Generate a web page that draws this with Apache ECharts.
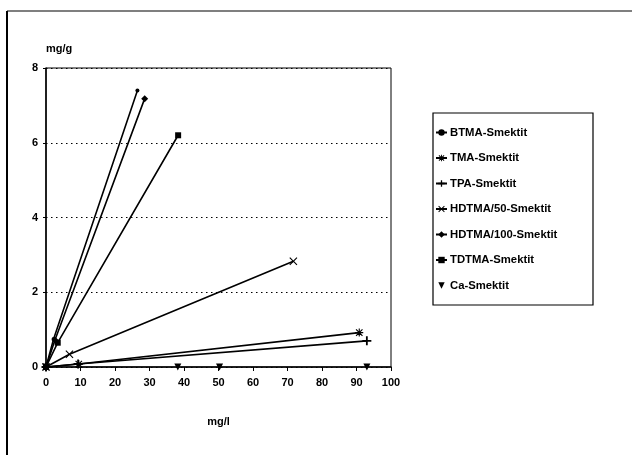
<!DOCTYPE html>
<html><head><meta charset="utf-8">
<script src="https://cdn.jsdelivr.net/npm/echarts@6/dist/echarts.min.js"></script>
<style>html,body{margin:0;padding:0;background:#fff}#c{width:632px;height:455px}</style>
</head><body><div id="c"></div>
<script>
const seriesNames = ['BTMA-Smektit','TMA-Smektit','TPA-Smektit','HDTMA/50-Smektit','HDTMA/100-Smektit','TDTMA-Smektit','Ca-Smektit'];
const btma = [[0,0],[2.2,0.75],[26.5,7.4]];
const tma = [[0,0],[9.5,0.08],[90.8,0.92]];
const tpa = [[0,0],[9.3,0.08],[93,0.7]];
const hdtma50 = [[0,0],[6.8,0.34],[71.7,2.83]];
const hdtma100 = [[0,0],[2.6,0.72],[28.6,7.18]];
const tdtma = [[0,0],[3.4,0.65],[38.3,6.2]];
const ca = [[0,0],[38.2,0],[50.3,0],[93,0]];
const xTicks = [0,10,20,30,40,50,60,70,80,90,100];
const yTicks = [0,2,4,6,8];

const FONT = 'Liberation Sans';
const plus = 'path://M4,0h2v4h4v2h-4v4h-2v-4h-4v-2h4z';
const asterisk = 'path://M4.3,0h1.4v4.3h4.3v1.4h-4.3v4.3h-1.4v-4.3h-4.3v-1.4h4.3z M1.5,0.5L5,4L8.5,0.5L9.5,1.5L6,5L9.5,8.5L8.5,9.5L5,6L1.5,9.5L0.5,8.5L4,5L0.5,1.5z';
const cross = 'path://M1,0L5,4L9,0L10,1L6,5L10,9L9,10L5,6L1,10L0,9L4,5L0,1z';
const dataSets = [btma, tma, tpa, hdtma50, hdtma100, tdtma, ca];
const symbols = [['circle',[4,4]], [asterisk,[8,8]], [plus,[9,9]], [cross,[8,8]], ['diamond',[7,7]], ['rect',[6,6]], ['triangle',[7,7]]];

const series = dataSets.map((d,i)=>({
  name: seriesNames[i], type:'line', data:d,
  symbol: symbols[i][0], symbolSize: symbols[i][1], symbolRotate: i===6?180:0,
  showSymbol:true, z: 5,
  itemStyle:{color:'#000'},
  lineStyle:{color:'#000', width: i===6?0:1.6, opacity: i===6?0:1},
  emphasis:{disabled:true}, animation:false
}));

const chart = echarts.init(document.getElementById('c'));
chart.setOption({
  animation:false,
  backgroundColor:'#fff',
  grid:{left:46, top:68, width:345, height:299, show:true, borderColor:'#000', borderWidth:1, backgroundColor:'transparent'},
  xAxis:{type:'value', min:0, max:100, interval:10,
    axisLine:{lineStyle:{color:'#000', width:1.5}},
    axisTick:{show:true, length:4, lineStyle:{color:'#000'}},
    axisLabel:{color:'#000', fontFamily:FONT, fontWeight:'bold', fontSize:11, margin:10},
    splitLine:{show:false},
    name:'mg/l', nameLocation:'middle', nameGap:49,
    nameTextStyle:{color:'#000', fontFamily:FONT, fontWeight:'bold', fontSize:11}},
  yAxis:{type:'value', min:0, max:8, interval:2,
    axisLine:{show:true, lineStyle:{color:'#000', width:1.5}},
    axisTick:{show:true, length:3, lineStyle:{color:'#000'}},
    axisLabel:{color:'#000', fontFamily:FONT, fontWeight:'bold', fontSize:11, margin:8},
    splitLine:{show:true, lineStyle:{color:'#000', type:[1.5,3.5], width:1}},
    name:'mg/g', nameLocation:'end', nameGap:14,
    nameTextStyle:{color:'#000', fontFamily:FONT, fontWeight:'bold', fontSize:11, align:'left', padding:[0,0,0,0]}},
  legend:{orient:'vertical', left:430, top:122, itemGap:14.5, itemWidth:11, itemHeight:8,
    data: seriesNames,
    textStyle:{color:'#000', fontFamily:FONT, fontWeight:'bold', fontSize:11.3, padding:[0,0,0,-2]},
    selectedMode:false},
  graphic:[
    {type:'line', shape:{x1:7,y1:11,x2:7,y2:455}, style:{stroke:'#000', lineWidth:2}},
    {type:'line', shape:{x1:7,y1:11,x2:632,y2:11}, style:{stroke:'#000', lineWidth:1.2}},
    {type:'rect', shape:{x:433,y:113,width:160,height:192}, style:{fill:'none', stroke:'#000', lineWidth:1.2}, z:-1}
  ],
  series: series
});
</script></body></html>
